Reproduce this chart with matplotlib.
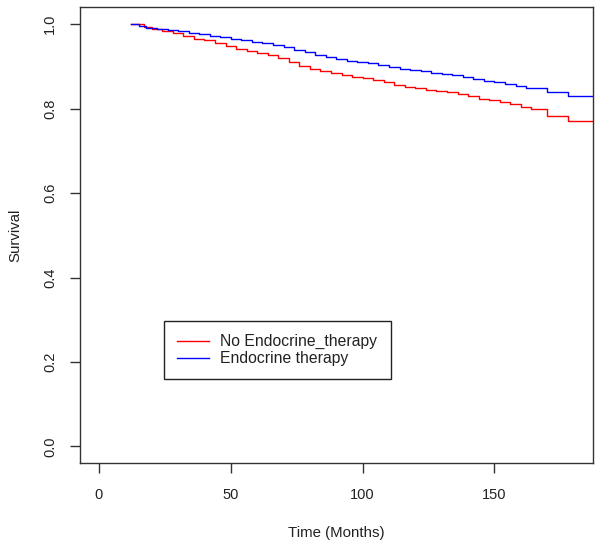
import matplotlib
matplotlib.use("Agg")
import matplotlib.pyplot as plt

# Kaplan-Meier style step curves
t_no_endo = [12, 17, 20, 24, 28, 32, 36, 40, 44, 48, 52, 56, 60, 64, 68, 72, 76, 80, 84,
             88, 92, 96, 100, 104, 108, 112, 116, 120, 124, 128, 132, 136, 140, 144, 148,
             152, 156, 160, 164, 170, 178, 190]
s_no_endo = [1.0, 0.993, 0.988, 0.984, 0.979, 0.972, 0.966, 0.962, 0.955, 0.948, 0.942,
             0.937, 0.932, 0.927, 0.920, 0.910, 0.901, 0.895, 0.889, 0.884, 0.879, 0.876,
             0.872, 0.867, 0.862, 0.857, 0.852, 0.849, 0.845, 0.842, 0.839, 0.835, 0.830,
             0.824, 0.820, 0.816, 0.810, 0.805, 0.800, 0.782, 0.771, 0.771]

t_endo = [12, 15, 18, 22, 26, 30, 34, 38, 42, 46, 50, 54, 58, 62, 66, 70, 74, 78, 82, 86,
          90, 94, 98, 102, 106, 110, 114, 118, 122, 126, 130, 134, 138, 142, 146, 150, 154,
          158, 162, 170, 178, 190]
s_endo = [1.0, 0.995, 0.992, 0.989, 0.986, 0.983, 0.980, 0.977, 0.973, 0.970, 0.966,
          0.962, 0.958, 0.955, 0.951, 0.946, 0.940, 0.934, 0.928, 0.923, 0.918, 0.914,
          0.910, 0.907, 0.903, 0.899, 0.895, 0.891, 0.888, 0.885, 0.882, 0.879, 0.875,
          0.870, 0.866, 0.862, 0.858, 0.853, 0.849, 0.839, 0.829, 0.829]

labels = ["No Endocrine_therapy", "Endocrine therapy"]
xticks = [0, 50, 100, 150]
yticks = [0.0, 0.2, 0.4, 0.6, 0.8, 1.0]

plt.rcParams["font.family"] = ["Liberation Sans", "DejaVu Sans"]

W, H = 601, 547
fig = plt.figure(figsize=(W / 100, H / 100), dpi=100)
ax = fig.add_axes([80 / W, (H - 463.3) / H, (592.5 - 80) / W, (463.3 - 7.3) / H])

ax.step(t_no_endo, s_no_endo, where="post", color="#ff0000", lw=1.0, label=labels[0])
ax.step(t_endo, s_endo, where="post", color="#0000ff", lw=1.0, label=labels[1])

ax.set_xlim(-7.2, 187.2)
ax.set_ylim(-0.04, 1.04)
ax.set_xticks(xticks)
ax.set_xticklabels([str(v) for v in xticks])
ax.set_yticks(yticks)
ax.set_yticklabels([f"{v:.1f}" for v in yticks], rotation=90, va="center")

tc = "#333333"
for sp in ax.spines.values():
    sp.set_color(tc)
    sp.set_linewidth(1.0)
ax.tick_params(axis="both", direction="out", length=7.5, width=1.0, color=tc,
               labelsize=10.5, labelcolor="#222222")
ax.tick_params(axis="x", pad=10.5)
ax.tick_params(axis="y", pad=9)

ax.set_xlabel("Time (Months)", fontsize=10.8, color="#222222", labelpad=17)
ax.set_ylabel("Survival", fontsize=10.8, color="#222222", labelpad=15)

leg = ax.legend(loc="upper left", bbox_to_anchor=(164 / W, (H - 320.7) / H),
                bbox_transform=fig.transFigure, borderaxespad=0, fancybox=False,
                framealpha=1, edgecolor="#222222", fontsize=11.3, handlelength=2.0,
                handletextpad=0.75, borderpad=0.85, labelspacing=0.12)
leg.get_frame().set_linewidth(1.0)
for t in leg.get_texts():
    t.set_color("#222222")

fig.savefig("out.png", dpi=100)
